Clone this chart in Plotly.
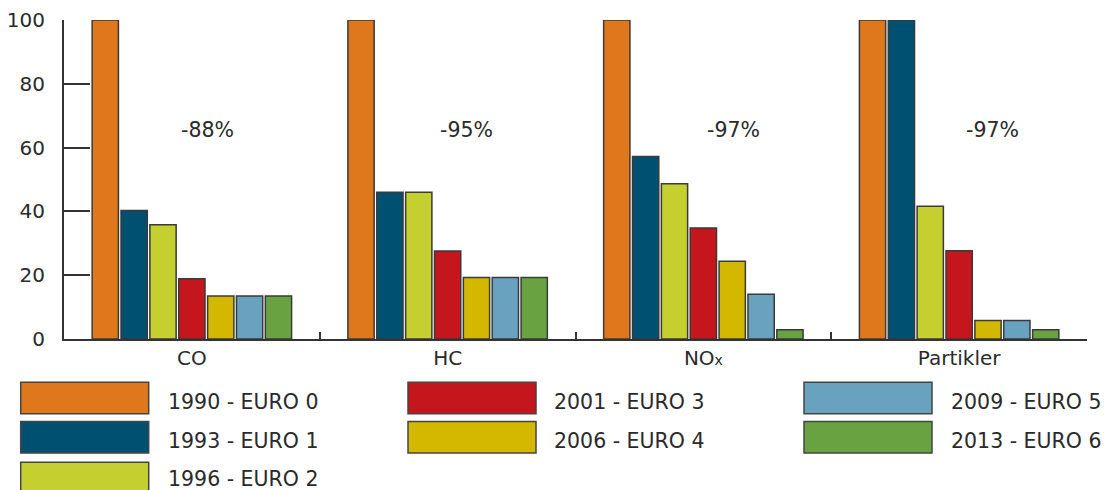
import plotly.graph_objects as go

categories = ["CO", "HC", "NO<span style='font-size:14px'>x</span>", "Partikler"]
series_names = ["1990 - EURO 0", "1993 - EURO 1", "1996 - EURO 2", "2001 - EURO 3",
                "2006 - EURO 4", "2009 - EURO 5", "2013 - EURO 6"]
euro0 = [100, 100, 100, 100]
euro1 = [40.3, 46, 57.2, 100]
euro2 = [35.8, 46, 48.7, 41.6]
euro3 = [18.9, 27.6, 34.8, 27.7]
euro4 = [13.5, 19.3, 24.4, 5.8]
euro5 = [13.5, 19.3, 14.0, 5.8]
euro6 = [13.5, 19.3, 2.9, 2.9]
series_values = [euro0, euro1, euro2, euro3, euro4, euro5, euro6]
reductions = ["-88%", "-95%", "-97%", "-97%"]
y_ticks = [0, 20, 40, 60, 80, 100]

colors = ["#DF771C", "#005072", "#C5CF30", "#C4161C", "#D4B800", "#69A2BF", "#69A341"]
FONT = "DejaVu Sans"
TXT = "#2a2a2a"
LINE = "#333333"

W, H = 1107, 490
ML, MR, MT, MB = 64, 20, 20, 151
PW, PH = W - ML - MR, H - MT - MB

def px_x(px):
    return (px - ML) / PW

def px_y(py):
    return (H - MB - py) / PH

fig = go.Figure()
for name, vals, col in zip(series_names, series_values, colors):
    fig.add_trace(go.Bar(
        x=categories, y=vals, name=name,
        marker=dict(color=col, line=dict(color="#3a3a3a", width=1.5)),
        showlegend=False,
    ))

ann_offsets = [0.063, 0.073, 0.117, 0.13]
annotations = []
for i, (r, off) in enumerate(zip(reductions, ann_offsets)):
    annotations.append(dict(x=i + off, y=65.5, xref="x", yref="y", text=r,
                            showarrow=False, font=dict(family=FONT, size=20.5, color=TXT),
                            xanchor="center", yanchor="middle"))

# custom legend (3 columns: 3, 2, 2 items)
col_box_x = [20.7, 408, 804]
col_text_x = [165.7, 552, 949]
row_y = [382.3, 421.5, 462.3]
text_y = [401.5, 440.5, 478.5]
box_w, box_h = 128, 31.5
shapes = []
layout_pos = [(0, 0), (0, 1), (0, 2), (1, 0), (1, 1), (2, 0), (2, 1)]
for name, col, (c, r) in zip(series_names, colors, layout_pos):
    x0 = col_box_x[c]
    y0 = row_y[r]
    shapes.append(dict(type="rect", xref="paper", yref="paper",
                       x0=px_x(x0), x1=px_x(x0 + box_w),
                       y0=px_y(y0), y1=px_y(y0 + box_h),
                       fillcolor=col, line=dict(color="#444444", width=1.5)))
    annotations.append(dict(x=px_x(col_text_x[c]), y=px_y(text_y[r]),
                            xref="paper", yref="paper", text=name, showarrow=False,
                            xanchor="left", yanchor="middle",
                            font=dict(family=FONT, size=20.5, color=TXT)))

fig.update_layout(
    width=W, height=H, autosize=False,
    margin=dict(l=ML, r=MR, t=MT, b=MB, pad=0, autoexpand=False),
    paper_bgcolor="white", plot_bgcolor="white",
    barmode="group", bargap=0.21, bargroupgap=0.09,
    font=dict(family=FONT, size=20, color=TXT),
    shapes=shapes, annotations=annotations,
    showlegend=False,
)
fig.update_xaxes(
    type="category", range=[-0.5, 3.5], automargin=False,
    showline=True, linecolor=LINE, linewidth=2,
    ticks="inside", tickson="boundaries", ticklen=7, tickwidth=2, tickcolor=LINE,
    showgrid=False, zeroline=False,
    tickfont=dict(family=FONT, size=20, color=TXT),
)
fig.update_yaxes(
    range=[0, 100], tickvals=y_ticks, automargin=False,
    showline=True, linecolor=LINE, linewidth=2,
    ticks="inside", ticklen=26, tickwidth=2, tickcolor=LINE,
    showgrid=False, zeroline=False,
    ticklabelstandoff=13,
    tickfont=dict(family=FONT, size=20, color=TXT),
)

fig.write_html("out.html")
